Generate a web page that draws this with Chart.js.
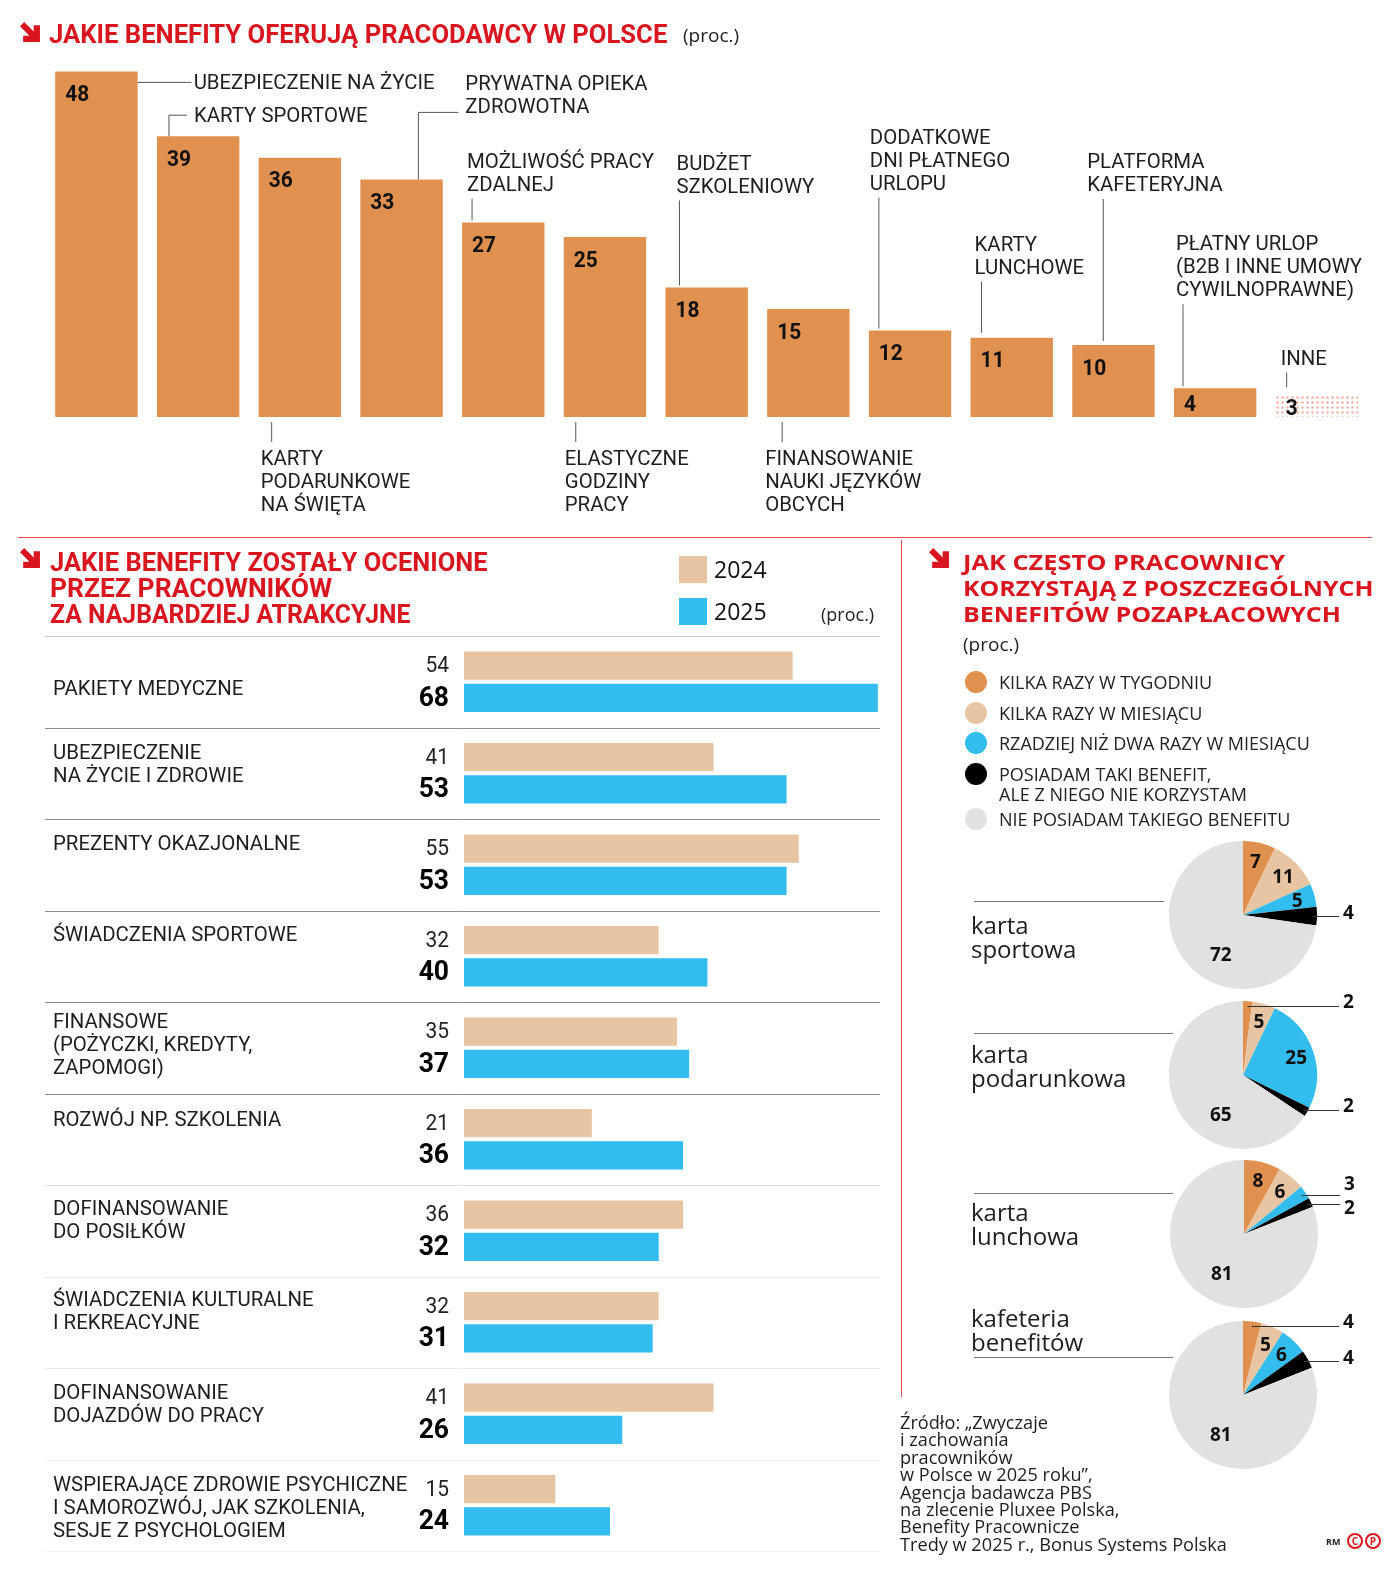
<!DOCTYPE html>
<html lang="pl">
<head>
<meta charset="utf-8">
<title>Benefity pracownicze</title>
<script src="https://cdn.jsdelivr.net/npm/chart.js@4.4.1/dist/chart.umd.min.js"></script>
<style>
html, body { margin: 0; padding: 0; background: #fff; }
#page { position: relative; width: 1400px; height: 1576px; overflow: hidden; background: #fff; }
#page canvas { position: absolute; left: 0; top: 0; pointer-events: none; }
.t { position: absolute; white-space: nowrap; line-height: 1; transform-origin: 0 50%; color: #1e1e1e; }
.box { position: absolute; }
</style>
</head>
<body>
<div id="page">
  <canvas id="offerChart" width="1400" height="1576"></canvas>
  <canvas id="rateChart" width="1400" height="1576"></canvas>
  <canvas id="pie0" width="1400" height="1576"></canvas>
  <canvas id="pie1" width="1400" height="1576"></canvas>
  <canvas id="pie2" width="1400" height="1576"></canvas>
  <canvas id="pie3" width="1400" height="1576"></canvas>
</div>
<script>
// COLOURS
const RED = '#d9161f';
const ORANGE = '#e0914f';
const BEIGE = '#e7c4a2';
const BLUE = '#33bdee';
const BLACK = '#000000';
const GREY = '#e1e1e1';

// TOP CHART: WHAT EMPLOYERS OFFER
const offerLabels = [
	['UBEZPIECZENIE NA ŻYCIE'],
	['KARTY SPORTOWE'],
	['KARTY', 'PODARUNKOWE', 'NA ŚWIĘTA'],
	['PRYWATNA OPIEKA', 'ZDROWOTNA'],
	['MOŻLIWOŚĆ PRACY', 'ZDALNEJ'],
	['ELASTYCZNE', 'GODZINY', 'PRACY'],
	['BUDŻET', 'SZKOLENIOWY'],
	['FINANSOWANIE', 'NAUKI JĘZYKÓW', 'OBCYCH'],
	['DODATKOWE', 'DNI PŁATNEGO', 'URLOPU'],
	['KARTY', 'LUNCHOWE'],
	['PLATFORMA', 'KAFETERYJNA'],
	['PŁATNY URLOP', '(B2B I INNE UMOWY', 'CYWILNOPRAWNE)'],
	['INNE'],
];
const offerValues = [48, 39, 36, 33, 27, 25, 18, 15, 12, 11, 10, 4, 3];

// BOTTOM LEFT: MOST ATTRACTIVE BENEFITS
const rateLabels = [
	['PAKIETY MEDYCZNE'],
	['UBEZPIECZENIE', 'NA ŻYCIE I ZDROWIE'],
	['PREZENTY OKAZJONALNE'],
	['ŚWIADCZENIA SPORTOWE'],
	['FINANSOWE', '(POŻYCZKI, KREDYTY,', 'ZAPOMOGI)'],
	['ROZWÓJ NP. SZKOLENIA'],
	['DOFINANSOWANIE', 'DO POSIŁKÓW'],
	['ŚWIADCZENIA KULTURALNE', 'I REKREACYJNE'],
	['DOFINANSOWANIE', 'DOJAZDÓW DO PRACY'],
	['WSPIERAJĄCE ZDROWIE PSYCHICZNE', 'I SAMOROZWÓJ, JAK SZKOLENIA,', 'SESJE Z PSYCHOLOGIEM'],
];
const rateYears = ['2024', '2025'];
const rate2024 = [54, 41, 55, 32, 35, 21, 36, 32, 41, 15];
const rate2025 = [68, 53, 53, 40, 37, 36, 32, 31, 26, 24];

// BOTTOM RIGHT: HOW OFTEN BENEFITS ARE USED
const usageLevels = [
	['KILKA RAZY W TYGODNIU'],
	['KILKA RAZY W MIESIĄCU'],
	['RZADZIEJ NIŻ DWA RAZY W MIESIĄCU'],
	['POSIADAM TAKI BENEFIT,', 'ALE Z NIEGO NIE KORZYSTAM'],
	['NIE POSIADAM TAKIEGO BENEFITU'],
];
const cardNames = [['karta', 'sportowa'], ['karta', 'podarunkowa'], ['karta', 'lunchowa'], ['kafeteria', 'benefitów']];
const sportCard = [7, 11, 5, 4, 72];
const giftCard = [2, 5, 25, 2, 65];
const lunchCard = [8, 6, 3, 2, 81];
const cafeteria = [4, 5, 6, 4, 81];
const pieValues = [sportCard, giftCard, lunchCard, cafeteria];
const pieColors = [ORANGE, BEIGE, BLUE, BLACK, GREY];

// LAYOUT / STYLE (not data)
const offerCallouts = [
	{ kind: 'side', ty: 9 },
	{ kind: 'elbow', lx: 12, ly: -21, hx: 30, tx: 37, ty: -22 },
	{ kind: 'down', lx: 13, tx: 2 },
	{ kind: 'elbow', lx: 58, ly: -67, hx: 98, tx: 105, ty: -98 },
	{ kind: 'up', lx: 10, top: -24, tx: 5 },
	{ kind: 'down', lx: 12, tx: 1 },
	{ kind: 'up', lx: 14, top: -87, tx: 11 },
	{ kind: 'down', lx: 15, tx: -2 },
	{ kind: 'up', lx: 10, top: -133, tx: 1 },
	{ kind: 'up', lx: 11, top: -56, tx: 4, gap: 5 },
	{ kind: 'up', lx: 31, top: -146, tx: 15, gap: 4 },
	{ kind: 'up', lx: 9, top: -84, tx: 2 },
	{ kind: 'up', lx: 11, top: -23, tx: 5, gap: 8 },
];
const rateLabelDy = [51, 23, 23, 22, 18, 24, 22, 21, 23, 23];
const rateLineColors = ['#c9c9c9', '#8c8c8c', '#8c8c8c', '#8c8c8c', '#8c8c8c', '#8c8c8c', '#e2e2e2', '#e6e6e6', '#ececec', '#eeeeee', '#f2f2f2'];
const pieCenters = [[1243, 915], [1243, 1075], [1244, 1234], [1243, 1395]];
const PIE_R = 74;
const pieOutside = [[3], [0, 3], [2, 3], [0, 3]];

const page = document.getElementById('page');
const LABEL_FONT = '400 21px Roboto';
const LABEL_SX = 0.97;
const LABEL_DY = 3;

// CANVAS TEXT WITH HORIZONTAL SQUEEZE
function say(ctx, str, x, y, font, color, align, sx) {
	ctx.save();
	ctx.font = font;
	ctx.fillStyle = color;
	ctx.textAlign = align || 'left';
	ctx.textBaseline = 'middle';
	ctx.translate(x, y);
	ctx.scale(sx || 1, 1);
	ctx.fillText(str, 0, 0);
	ctx.restore();
}
function line(ctx, pts, color) {
	ctx.save();
	ctx.strokeStyle = color || '#555';
	ctx.lineWidth = 1;
	ctx.beginPath();
	pts.forEach((p, i) => (i ? ctx.lineTo(p[0], p[1]) : ctx.moveTo(p[0], p[1])));
	ctx.stroke();
	ctx.restore();
}

// HTML TEXT, OPTIONALLY FITTED TO A WIDTH
function addText(str, x, y, font, color, fitW) {
	const el = document.createElement('div');
	el.className = 't';
	el.textContent = str;
	el.style.font = font;
	el.style.color = color || '#1e1e1e';
	el.style.left = x + 'px';
	el.style.top = y + 'px';
	page.appendChild(el);
	const sx = fitW ? fitW / el.offsetWidth : 1;
	el.style.transform = 'translateY(-50%) scaleX(' + sx + ')';
	return el;
}
function addBox(x, y, w, h, bg, extra) {
	const el = document.createElement('div');
	el.className = 'box';
	Object.assign(el.style, { left: x + 'px', top: y + 'px', width: w + 'px', height: h + 'px', background: bg }, extra || {});
	page.appendChild(el);
	return el;
}
function addArrow(x, y) {
	const ns = 'http://www.w3.org/2000/svg';
	const svg = document.createElementNS(ns, 'svg');
	svg.setAttribute('width', 21);
	svg.setAttribute('height', 21);
	svg.setAttribute('viewBox', '0 0 20 20');
	svg.style.position = 'absolute';
	svg.style.left = x + 'px';
	svg.style.top = y + 'px';
	const p = document.createElementNS(ns, 'path');
	p.setAttribute('d', 'M0,4 L4,0 L13,9 L13,3 L19,3 L19,19 L3,19 L3,13 L9,13 Z');
	p.setAttribute('fill', RED);
	svg.appendChild(p);
	page.appendChild(svg);
}

// ---------- TOP BAR CHART ----------
const offerCanvas = document.getElementById('offerChart');
const octx = offerCanvas.getContext('2d');
const dotCanvas = document.createElement('canvas');
dotCanvas.width = 5;
dotCanvas.height = 5;
const dctx = dotCanvas.getContext('2d');
dctx.fillStyle = '#eeb1a0';
dctx.beginPath();
dctx.arc(2.5, 2.5, 1.2, 0, Math.PI * 2);
dctx.fill();
const dots = octx.createPattern(dotCanvas, 'repeat');

const offerLabelPlugin = {
	id: 'offerLabels',
	afterDatasetsDraw(chart) {
		const ctx = chart.ctx;
		const B = chart.chartArea.bottom;
		chart.getDatasetMeta(0).data.forEach((bar, i) => {
			const L = bar.x - bar.width / 2, R = bar.x + bar.width / 2, T = bar.y;
			const h = B - T;
			say(ctx, String(offerValues[i]), L + 10, T + 3 + Math.min(21, h / 2), '700 22px Roboto', '#111', 'left', 0.95);
			const c = offerCallouts[i];
			const lines = offerLabels[i];
			let x0, y0;
			if (c.kind === 'side') {
				line(ctx, [[R, T + 11], [R + 54, T + 11]]);
				x0 = R + 56; y0 = T + c.ty;
			} else if (c.kind === 'elbow') {
				line(ctx, [[L + c.lx, T], [L + c.lx, T + c.ly], [L + c.hx, T + c.ly]]);
				x0 = L + c.tx; y0 = T + c.ty;
			} else if (c.kind === 'up') {
				line(ctx, [[L + c.lx, T - (c.gap || 2)], [L + c.lx, T + c.top]]);
				x0 = L + c.tx; y0 = T + c.top - 16 - (lines.length - 1) * 23;
			} else {
				line(ctx, [[L + c.lx, B + 5], [L + c.lx, B + 25]]);
				x0 = L + c.tx; y0 = B + 40;
			}
			lines.forEach((s, k) => say(ctx, s, x0, y0 + LABEL_DY + k * 23, LABEL_FONT, '#1e1e1e', 'left', LABEL_SX));
		});
	},
};

new Chart(octx, {
	type: 'bar',
	data: {
		labels: offerLabels.map(l => l.join(' ')),
		datasets: [{
			data: offerValues,
			backgroundColor: offerValues.map((v, i) => (i === offerValues.length - 1 ? dots : ORANGE)),
			borderWidth: 0,
			categoryPercentage: 1,
			barPercentage: 0.81,
		}],
	},
	options: {
		responsive: false,
		animation: false,
		layout: { padding: { left: 45.6, right: 32.3, top: 57, bottom: 1159 } },
		scales: {
			x: { display: false },
			y: { display: false, min: 0, max: 50 },
		},
		plugins: { legend: { display: false }, tooltip: { enabled: false } },
	},
	plugins: [offerLabelPlugin],
});

// ---------- BOTTOM LEFT HORIZONTAL BARS ----------
const rateLabelPlugin = {
	id: 'rateLabels',
	beforeDatasetsDraw(chart) {
		const ctx = chart.ctx;
		const ys = chart.scales.y;
		const pitch = (ys.bottom - ys.top) / rateLabels.length;
		for (let i = 0; i <= rateLabels.length; i++) {
			const y = Math.round(ys.top + i * pitch) + 0.5;
			line(ctx, [[45, y], [880, y]], rateLineColors[i]);
		}
	},
	afterDatasetsDraw(chart) {
		const ctx = chart.ctx;
		const ys = chart.scales.y;
		const pitch = (ys.bottom - ys.top) / rateLabels.length;
		rateLabels.forEach((lines, i) => {
			const top = ys.top + i * pitch;
			lines.forEach((s, k) => say(ctx, s, 53, top + rateLabelDy[i] + LABEL_DY + k * 23, LABEL_FONT, '#1e1e1e', 'left', LABEL_SX));
		});
		chart.getDatasetMeta(0).data.forEach((bar, i) => {
			say(ctx, String(rate2024[i]), 449, bar.y + 1, '400 22px Roboto', '#222', 'right', 0.95);
		});
		chart.getDatasetMeta(1).data.forEach((bar, i) => {
			say(ctx, String(rate2025[i]), 449, bar.y + 1, '700 27px Roboto', '#000', 'right', 0.98);
		});
	},
};

new Chart(document.getElementById('rateChart'), {
	type: 'bar',
	data: {
		labels: rateLabels.map(l => l.join(' ')),
		datasets: [
			{ label: rateYears[0], data: rate2024, backgroundColor: BEIGE, borderWidth: 0, categoryPercentage: 0.703, barPercentage: 0.875 },
			{ label: rateYears[1], data: rate2025, backgroundColor: BLUE, borderWidth: 0, categoryPercentage: 0.703, barPercentage: 0.875 },
		],
	},
	options: {
		indexAxis: 'y',
		responsive: false,
		animation: false,
		layout: { padding: { left: 464, right: 510, top: 636, bottom: 25 } },
		scales: {
			x: { display: false, min: 0, max: 70 },
			y: { display: false },
		},
		plugins: { legend: { display: false }, tooltip: { enabled: false } },
	},
	plugins: [rateLabelPlugin],
});

// ---------- PIES ----------
function pieLabelPlugin(outside) {
	return {
		id: 'pieLabels',
		afterDatasetsDraw(chart) {
			const ctx = chart.ctx;
			const values = chart.data.datasets[0].data;
			const last = values.length - 1;
			const out = [];
			chart.getDatasetMeta(0).data.forEach((arc, i) => {
				const { x, y, startAngle, endAngle, outerRadius: r } = arc;
				const mid = (startAngle + endAngle) / 2;
				if (outside.includes(i)) {
					const px = x + r * 0.94 * Math.cos(mid), py = y + r * 0.94 * Math.sin(mid);
					out.push({ px, py, ty: py - 4, end: x + r + 22, tx: x + r + 26, v: values[i] });
				} else {
					const a = i === last ? Math.PI * 2 / 3 : mid;
					const k = i === last ? 0.6 : 0.76;
					say(ctx, String(values[i]), x + r * k * Math.cos(a), y + r * k * Math.sin(a) + 2, '700 19px "Open Sans"', '#111', 'center');
				}
			});
			out.sort((a, b) => a.ty - b.ty);
			for (let j = 1; j < out.length; j++) {
				const d = out[j].ty - out[j - 1].ty;
				if (d < 24) {
					const s = (24 - d) / 2;
					out[j - 1].ty -= s;
					out[j].ty += s;
				}
			}
			out.forEach(o => {
				line(ctx, [[o.px, Math.round(o.py) + 0.5], [o.end, Math.round(o.py) + 0.5]], '#333');
				say(ctx, String(o.v), o.tx, o.ty + 1, '700 19px "Open Sans"', '#111', 'left');
			});
		},
	};
}

pieValues.forEach((vals, n) => {
	const [cx, cy] = pieCenters[n];
	new Chart(document.getElementById('pie' + n), {
		type: 'pie',
		data: {
			labels: usageLevels.map(l => l.join(' ')),
			datasets: [{ data: vals, backgroundColor: pieColors, borderWidth: 0 }],
		},
		options: {
			responsive: false,
			animation: false,
			layout: { padding: { left: cx - PIE_R, right: 1400 - cx - PIE_R, top: cy - PIE_R, bottom: 1576 - cy - PIE_R } },
			plugins: { legend: { display: false }, tooltip: { enabled: false } },
		},
		plugins: [pieLabelPlugin(pieOutside[n])],
	});
});

// ---------- HEADINGS, LEGENDS, NOTES ----------
const TITLE_FONT = '700 26px Roboto';
addArrow(20, 22);
addText('JAKIE BENEFITY OFERUJĄ PRACODAWCY W POLSCE', 49, 34, TITLE_FONT, RED, 618);
addText('(proc.)', 683, 35, '400 19px "Open Sans"', '#222');

addBox(18, 537, 1354, 1, '#e0474f');
addBox(901, 540, 1, 857, '#e0474f');

addArrow(20, 548);
[['JAKIE BENEFITY ZOSTAŁY OCENIONE', 438], ['PRZEZ PRACOWNIKÓW', 282], ['ZA NAJBARDZIEJ ATRAKCYJNE', 360]]
	.forEach((t, k) => addText(t[0], 50, 562 + k * 26, TITLE_FONT, RED, t[1]));
addBox(679, 556, 28, 27, BEIGE);
addBox(679, 598, 28, 27, BLUE);
addText(rateYears[0], 714, 569, '400 23px "Open Sans"', '#111');
addText(rateYears[1], 714, 611, '400 23px "Open Sans"', '#111');
addText('(proc.)', 821, 614, '400 18px "Open Sans"', '#222');

addArrow(929, 548);
[['JAK CZĘSTO PRACOWNICY', 322], ['KORZYSTAJĄ Z POSZCZEGÓLNYCH', 410], ['BENEFITÓW POZAPŁACOWYCH', 378]]
	.forEach((t, k) => addText(t[0], 963, 561 + k * 26, '700 22px "Open Sans"', RED, t[1]));
addText('(proc.)', 963, 644, '400 19px "Open Sans"', '#222');

const legendY = [682, 712.5, 743, 774, 819];
usageLevels.forEach((lines, i) => {
	addBox(965, legendY[i] - 11, 22, 22, pieColors[i], { borderRadius: '50%' });
	lines.forEach((s, k) => addText(s, 999, legendY[i] + k * 20, '400 18px "Open Sans"', '#222'));
});

const nameLineY = [901, 1033, 1193, 1357];
const nameY = [924, 1053, 1211, 1317];
cardNames.forEach((lines, n) => {
	addBox(974, nameLineY[n], n === 0 ? 190 : 199, 1, '#777');
	lines.forEach((s, k) => addText(s, 971, nameY[n] + k * 24, '400 24px "Open Sans"', '#1e1e1e'));
});

const src = document.createElement('div');
src.className = 't';
src.style.cssText = 'left:900px;top:1414px;font:400 18px "Open Sans";line-height:17.4px;color:#1e1e1e;transform-origin:0 0;';
src.innerHTML = 'Źródło: „Zwyczaje<br>i zachowania<br>pracowników<br>w Polsce w 2025 roku”,<br>Agencja badawcza PBS<br>na zlecenie Pluxee Polska,<br>Benefity Pracownicze<br>Tredy w 2025 r., Bonus Systems Polska';
page.appendChild(src);
src.style.transform = 'scaleX(' + (327 / src.offsetWidth) + ')';

addText('RM', 1326, 1541, '700 9px "Open Sans"', '#222');
['C', 'P'].forEach((ch, k) => {
	const el = addBox(1347 + k * 18, 1533, 12, 12, 'transparent', {
		border: '2px solid ' + RED, borderRadius: '50%', color: RED, font: '700 10px "Open Sans"',
		lineHeight: '12px', textAlign: 'center',
	});
	el.textContent = ch;
});
</script>
</body>
</html>
